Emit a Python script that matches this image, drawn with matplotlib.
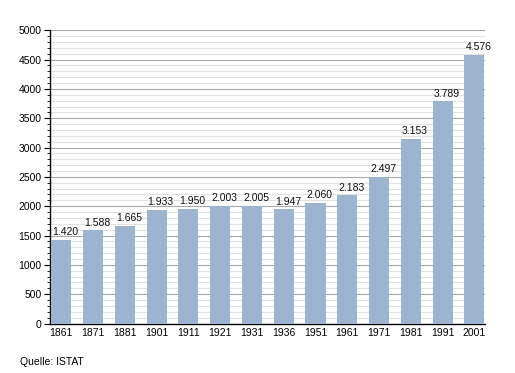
import numpy as np
import matplotlib
matplotlib.use("Agg")
import matplotlib.pyplot as plt
from matplotlib.ticker import MultipleLocator

plt.rcParams['font.family'] = ['Liberation Sans', 'DejaVu Sans']

years = ['1861', '1871', '1881', '1901', '1911', '1921', '1931',
         '1936', '1951', '1961', '1971', '1981', '1991', '2001']
population = [1420, 1588, 1665, 1933, 1950, 2003, 2005,
              1947, 2060, 2183, 2497, 3153, 3789, 4576]
value_labels = ['1.420', '1.588', '1.665', '1.933', '1.950', '2.003', '2.005',
                '1.947', '2.060', '2.183', '2.497', '3.153', '3.789', '4.576']

fig = plt.figure(figsize=(5.15, 3.73), dpi=100)
ax = fig.add_axes([0.0971, 0.1327, 0.8446, 0.7861])

x = np.arange(len(years))
bars = ax.bar(x, population, width=0.63, color='#9cb4cf', zorder=3)

# Werte über den Balken
for xi, v, lab in zip(x, population, value_labels):
    ax.annotate(lab, (xi, v), xytext=(3, 2), textcoords='offset points',
                ha='center', va='bottom', fontsize=7.5, color='#111111')

ax.set_xlim(-0.35, 13.33)
ax.set_ylim(0, 5000)
ax.set_xticks(x)
ax.set_xticklabels(years, fontsize=7.5)
ax.tick_params(axis='x', length=0, pad=3)

ax.yaxis.set_major_locator(MultipleLocator(500))
ax.yaxis.set_minor_locator(MultipleLocator(100))
ax.tick_params(axis='y', which='major', length=4, width=0.8, labelsize=7.5, pad=2)
ax.tick_params(axis='y', which='minor', length=2, width=0.6)

ax.grid(axis='y', which='major', color='#a8a8a8', linewidth=0.8, zorder=1)
ax.grid(axis='y', which='minor', color='#e2e2e2', linewidth=0.8, zorder=1)

for s in ['top', 'right']:
    ax.spines[s].set_visible(False)
ax.spines['left'].set_linewidth(1.0)
ax.spines['bottom'].set_linewidth(1.0)

fig.text(20 / 515, 1 - 362 / 373, 'Quelle: ISTAT', fontsize=7.5, va='center', ha='left')

plt.savefig('out.png', dpi=100)
